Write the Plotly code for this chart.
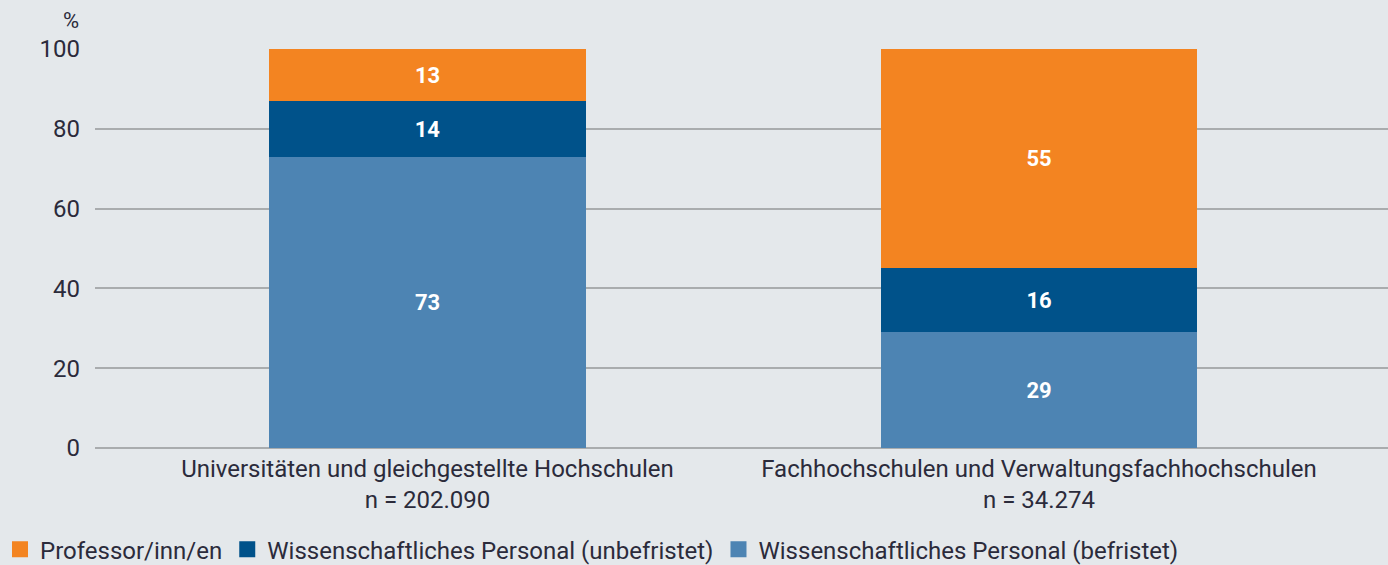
import plotly.graph_objects as go

categories = ["Universitäten und gleichgestellte Hochschulen<br>n = 202.090",
              "Fachhochschulen und Verwaltungsfachhochschulen<br>n = 34.274"]
befristet = [73, 29]
unbefristet = [14, 16]
professoren = [13, 55]
series_names = ["Professor/inn/en",
                "Wissenschaftliches Personal (unbefristet)",
                "Wissenschaftliches Personal (befristet)"]
y_ticks = [0, 20, 40, 60, 80, 100]

FONT = "Roboto, Liberation Sans, sans-serif"
TXT = "#2b2b3b"
xpos = [0, 1]

series = [
    (series_names[2], befristet, "#4d84b3"),
    (series_names[1], unbefristet, "#00528a"),
    (series_names[0], professoren, "#f38421"),
]

fig = go.Figure()
for name, vals, col in series:
    fig.add_trace(go.Bar(
        x=xpos, y=vals, name=name, marker=dict(color=col, line=dict(width=0)),
        width=0.518, text=[str(v) for v in vals], textposition="inside",
        insidetextanchor="middle",
        textfont=dict(family=FONT, size=22, color="white", weight="bold"),
        hoverinfo="skip", showlegend=False,
    ))
# legend entries with larger square swatches
for name, vals, col in series:
    fig.add_trace(go.Scatter(
        x=[None], y=[None], mode="markers", name=name,
        marker=dict(symbol="square", size=22, color=col), hoverinfo="skip",
    ))

fig.update_layout(
    barmode="stack",
    width=1388, height=565,
    paper_bgcolor="#e4e8eb", plot_bgcolor="#e4e8eb",
    margin=dict(l=95, r=0, t=49, b=117, autoexpand=False),
    font=dict(family=FONT, size=22, color=TXT),
    legend=dict(orientation="h", x=0, xref="container", y=0.027, yref="container",
                xanchor="left", yanchor="middle",
                traceorder="reversed", font=dict(size=24, color=TXT),
                itemwidth=30, bgcolor="rgba(0,0,0,0)"),
    xaxis=dict(range=[-0.5437, 1.5707], tickvals=xpos, ticktext=categories,
               showgrid=False, zeroline=False, showline=False, ticks="",
               ticklabelstandoff=4,
               automargin=False, tickfont=dict(size=24, color=TXT)),
    yaxis=dict(range=[0, 100], tickvals=y_ticks, showgrid=True,
               gridcolor="#a9acae", gridwidth=2, zeroline=True,
               zerolinecolor="#a9acae", zerolinewidth=2, showline=False,
               ticks="", ticklabelstandoff=14, automargin=False,
               tickfont=dict(size=24, color=TXT)),
    annotations=[dict(text="%", xref="paper", yref="paper", x=0, y=1.0,
                      xanchor="right", yanchor="bottom", xshift=-14, yshift=14,
                      showarrow=False, font=dict(size=22, color=TXT))],
    bargap=0,
)

fig.write_html("out.html", config={"displayModeBar": False},
               post_script="document.body.style.margin='0';")
